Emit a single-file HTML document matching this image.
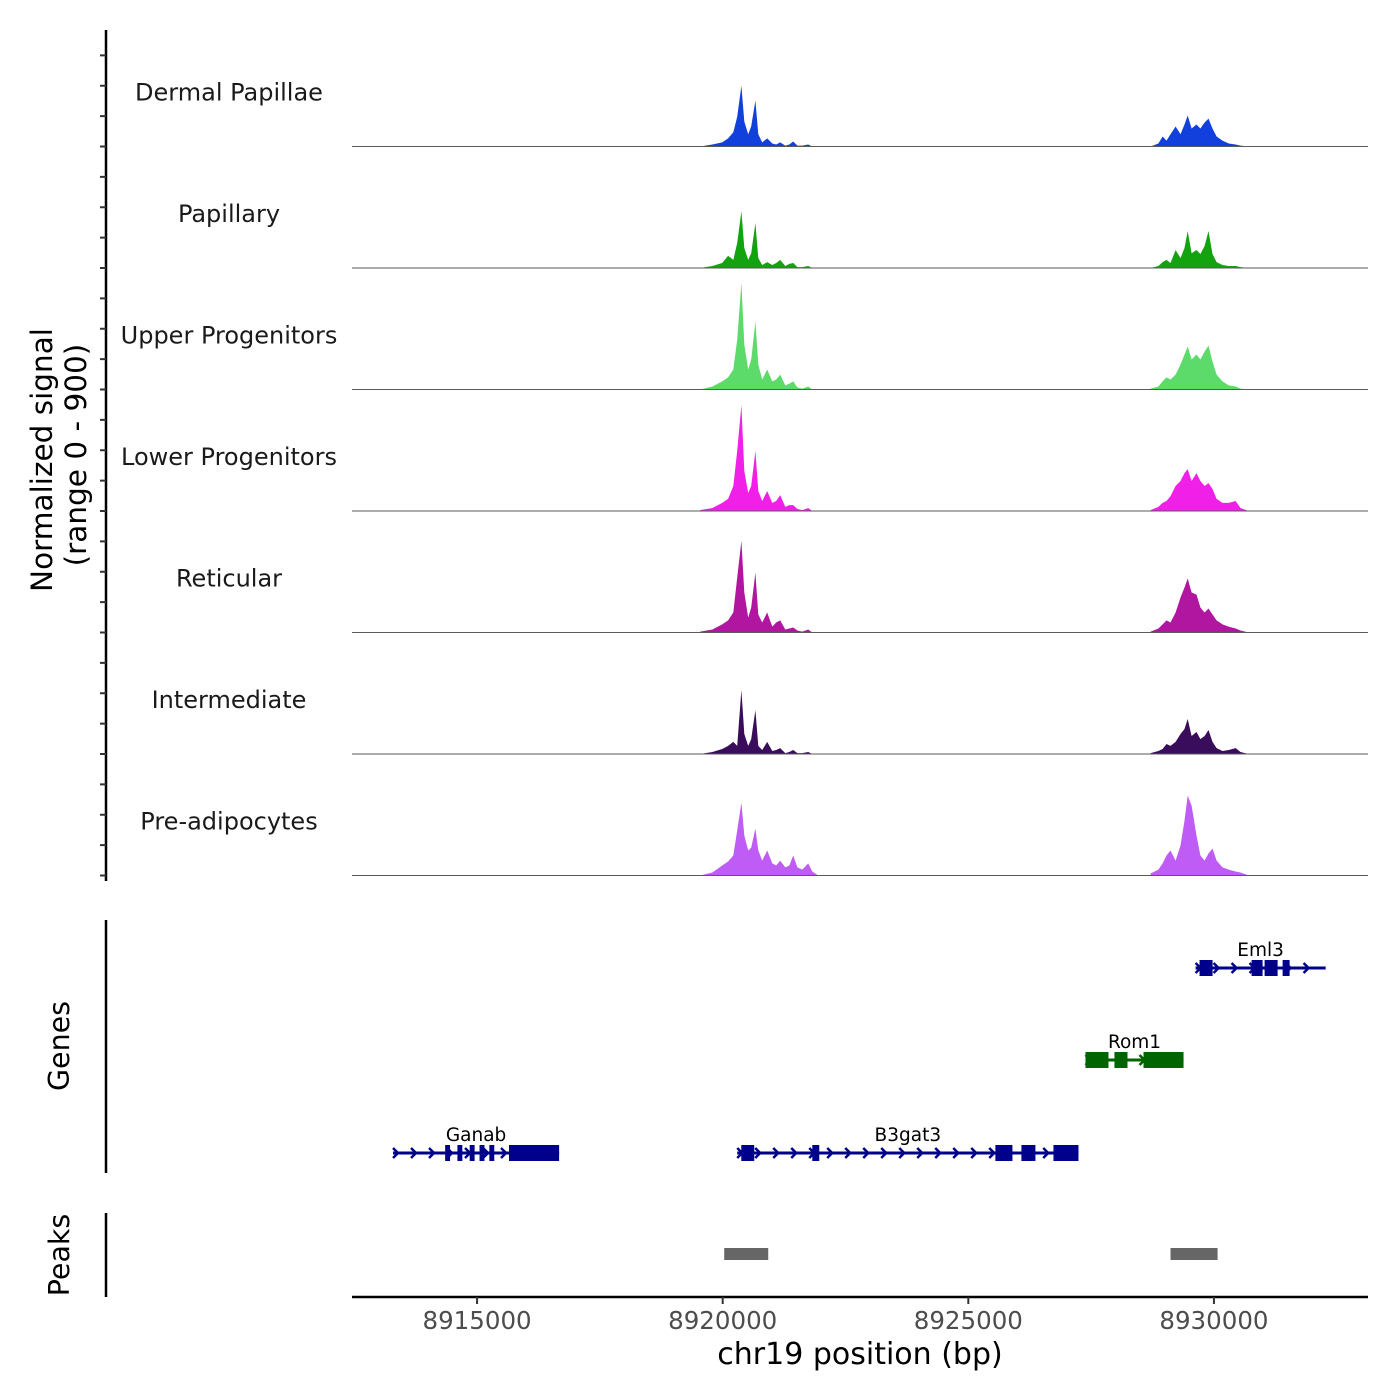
<!DOCTYPE html>
<html><head><meta charset="utf-8"><style>
body{margin:0;background:#fff}
svg{display:block;font-family:"DejaVu Sans","Liberation Sans",sans-serif}
</style></head><body>
<svg id="chart" width="1400" height="1400" viewBox="0 0 1400 1400" xmlns="http://www.w3.org/2000/svg"></svg>
<script>
// ---- data ----
const trackNames = ["Dermal Papillae","Papillary","Upper Progenitors","Lower Progenitors","Reticular","Intermediate","Pre-adipocytes"];
const trackColors = ["#1240dc","#13a30f","#5cdb6a","#f020e8","#b0169f","#3a0c5c","#c05cf6"];
const positions = [8919540,8919790,8919990,8920110,8920215,8920295,8920380,8920440,8920520,8920580,8920665,8920725,8920805,8920905,8921010,8921090,8921170,8921275,8921355,8921435,8921520,8921620,8921740,8921825,8921945,
 8928710,8928870,8928955,8929035,8929115,8929220,8929320,8929400,8929465,8929545,8929645,8929725,8929810,8929890,8929970,8930055,8930175,8930300,8930440,8930540,8930705];
const dermalPapillae = [0,15,30,60,105,220,450,185,90,150,340,90,30,60,22,15,30,7,15,37,7,7,15,0,0, 0,22,74,44,90,148,90,163,230,133,163,133,178,207,133,74,44,22,15,7,0];
const papillary = [0,15,37,90,60,185,420,148,60,110,333,74,22,44,22,37,60,15,30,37,7,7,15,0,0, 0,15,44,60,37,133,74,148,274,110,133,104,163,274,104,44,22,15,15,7,0];
const upperProgenitors = [0,22,60,90,148,370,790,333,148,222,503,185,74,148,60,74,110,30,44,60,15,7,22,0,0, 7,22,60,90,74,110,185,259,318,222,259,222,281,325,207,110,60,30,22,7,0];
const lowerProgenitors = [7,22,60,90,185,444,784,296,133,185,444,148,74,148,60,74,118,30,44,44,15,7,22,0,0, 7,30,60,74,110,185,222,281,310,222,281,222,185,207,163,90,60,60,74,22,0];
const reticular = [7,22,60,90,148,407,680,296,110,185,444,133,74,148,44,74,90,22,30,37,15,7,22,0,0, 7,30,60,90,74,148,259,333,400,296,281,185,148,178,133,90,60,44,30,15,0];
const intermediate = [0,15,37,60,90,60,473,148,60,110,325,60,30,90,22,30,44,7,15,30,7,7,15,0,0, 7,22,37,74,60,90,148,185,259,133,163,110,133,178,90,44,22,30,44,15,0];
const preAdipocytes = [0,22,74,104,148,333,540,296,185,207,348,185,110,185,90,74,110,60,74,148,60,44,90,30,0, 15,44,90,148,185,110,222,407,592,518,296,148,110,163,200,110,60,44,30,22,0];
const trackValues = [dermalPapillae,papillary,upperProgenitors,lowerProgenitors,reticular,intermediate,preAdipocytes];
const xTicks = [8915000,8920000,8925000,8930000];
const genes = [
 {name:"Eml3",row:0,color:"#00008b",start:8929626,end:8932274,exons:[[8929707,8929972],[8930766,8930990],[8931031,8931296],[8931398,8931540]]},
 {name:"Rom1",row:1,color:"#006400",start:8927385,end:8929381,exons:[[8927385,8927853],[8927975,8928240],[8928566,8929381]]},
 {name:"Ganab",row:2,color:"#00008b",start:8913289,end:8916670,exons:[[8914350,8914450],[8914600,8914700],[8914850,8914950],[8915050,8915150],[8915250,8915350],[8915650,8916670]]},
 {name:"B3gat3",row:2,color:"#00008b",start:8920296,end:8927242,exons:[[8920378,8920642],[8921824,8921966],[8925551,8925898],[8926081,8926366],[8926733,8927242]]}
];
const peaks = [[8920031,8920927],[8929116,8930074]];

// ---- scales ----
const X0=352,X1=1368,BP0=8912454,BP1=8933136;
function xs(bp){return X0+(bp-BP0)/(BP1-BP0)*(X1-X0);}
const trackTop=25,trackH=121.5,YMAX=900;
function ys(t,v){return trackTop+(t+1)*trackH-v/YMAX*trackH;}
const svg=document.getElementById('chart');
const NS="http://www.w3.org/2000/svg";
function el(tag,attrs,parent){const e=document.createElementNS(NS,tag);for(const k in attrs)e.setAttribute(k,attrs[k]);(parent||svg).appendChild(e);return e;}

trackNames.forEach((name,t)=>{
  const g=el('g',{});
  
  
  const base=ys(t,0);
  const vals=trackValues[t];
  [[0,25],[25,positions.length]].forEach(([a,b])=>{
    let d='M'+xs(positions[a])+','+base;
    for(let i=a;i<b;i++)d+=' L'+xs(positions[i]).toFixed(1)+','+ys(t,vals[i]).toFixed(1);
    d+=' L'+xs(positions[b-1])+','+base+' Z';
    const p=el('path',{d:d,fill:trackColors[t]},g);
    
    
  });
  const bl=el('line',{x1:X0,x2:X1,y1:base,y2:base,stroke:'#5a5a5a','stroke-width':1},g);
  
  
  const lb=el('text',{x:229,y:base-46,'text-anchor':'middle','font-size':24,fill:'#1a1a1a'},g);
  lb.textContent=name;
  
  
});
const ax=el('line',{x1:106,x2:106,y1:30,y2:881,stroke:'#000','stroke-width':2.5});


for(let k=1;k<=28;k++){
  const y=trackTop+k*trackH/4;
  const tk=el('line',{x1:100,x2:106,y1:y,y2:y,stroke:'#333','stroke-width':2});
  
  
}
const yt=el('text',{transform:'translate(52,460) rotate(-90)','text-anchor':'middle','font-size':29.5,fill:'#000'});
yt.textContent='Normalized signal';


const yt2=el('text',{transform:'translate(86,455) rotate(-90)','text-anchor':'middle','font-size':29.5,fill:'#000'});
yt2.textContent='(range 0 - 900)';



const gax=el('line',{x1:106,x2:106,y1:920,y2:1173,stroke:'#000','stroke-width':2.5});


const gt=el('text',{transform:'translate(69,1046) rotate(-90)','text-anchor':'middle','font-size':28.5});
gt.textContent='Genes';


const rowY=[968,1060,1153];
genes.forEach(gn=>{
  const g=el('g',{});
  
  
  const y=rowY[gn.row];
  el('line',{x1:xs(gn.start),x2:xs(gn.end),y1:y,y2:y,stroke:gn.color,'stroke-width':3},g);
  for(let x=xs(gn.start)+3;x<xs(gn.end)-3;x+=18){
    el('path',{d:`M${x-3},${y-5} L${x+2},${y} L${x-3},${y+5}`,stroke:gn.color,'stroke-width':2.5,fill:'none'},g);
  }
  gn.exons.forEach(e=>{
    const r=el('rect',{x:xs(e[0]),y:y-8,width:Math.max(3,xs(e[1])-xs(e[0])),height:16,fill:gn.color},g);
    
    
  });
  const t=el('text',{x:(xs(gn.start)+xs(gn.end))/2,y:y-12,'text-anchor':'middle','font-size':18.5,fill:'#000'},g);
  t.textContent=gn.name;
  
  
});

const pax=el('line',{x1:106,x2:106,y1:1213,y2:1297,stroke:'#000','stroke-width':2.5});


const pt=el('text',{transform:'translate(69,1255) rotate(-90)','text-anchor':'middle','font-size':28.5});
pt.textContent='Peaks';


peaks.forEach(p=>{
  const r=el('rect',{x:xs(p[0]),y:1248,width:xs(p[1])-xs(p[0]),height:12,fill:'#666'});
  
  
});

const xa=el('line',{x1:X0,x2:X1,y1:1297,y2:1297,stroke:'#000','stroke-width':2.5});


xTicks.forEach(v=>{
  const x=xs(v);
  const tk=el('line',{x1:x,x2:x,y1:1297,y2:1304,stroke:'#333','stroke-width':2});
  
  
  const t=el('text',{x:x,y:1329,'text-anchor':'middle','font-size':24.5,fill:'#4d4d4d'});
  t.textContent=v;
  
  
});
const xt=el('text',{x:860,y:1364,'text-anchor':'middle','font-size':30,fill:'#000'});
xt.textContent='chr19 position (bp)';


</script>
</body></html>
